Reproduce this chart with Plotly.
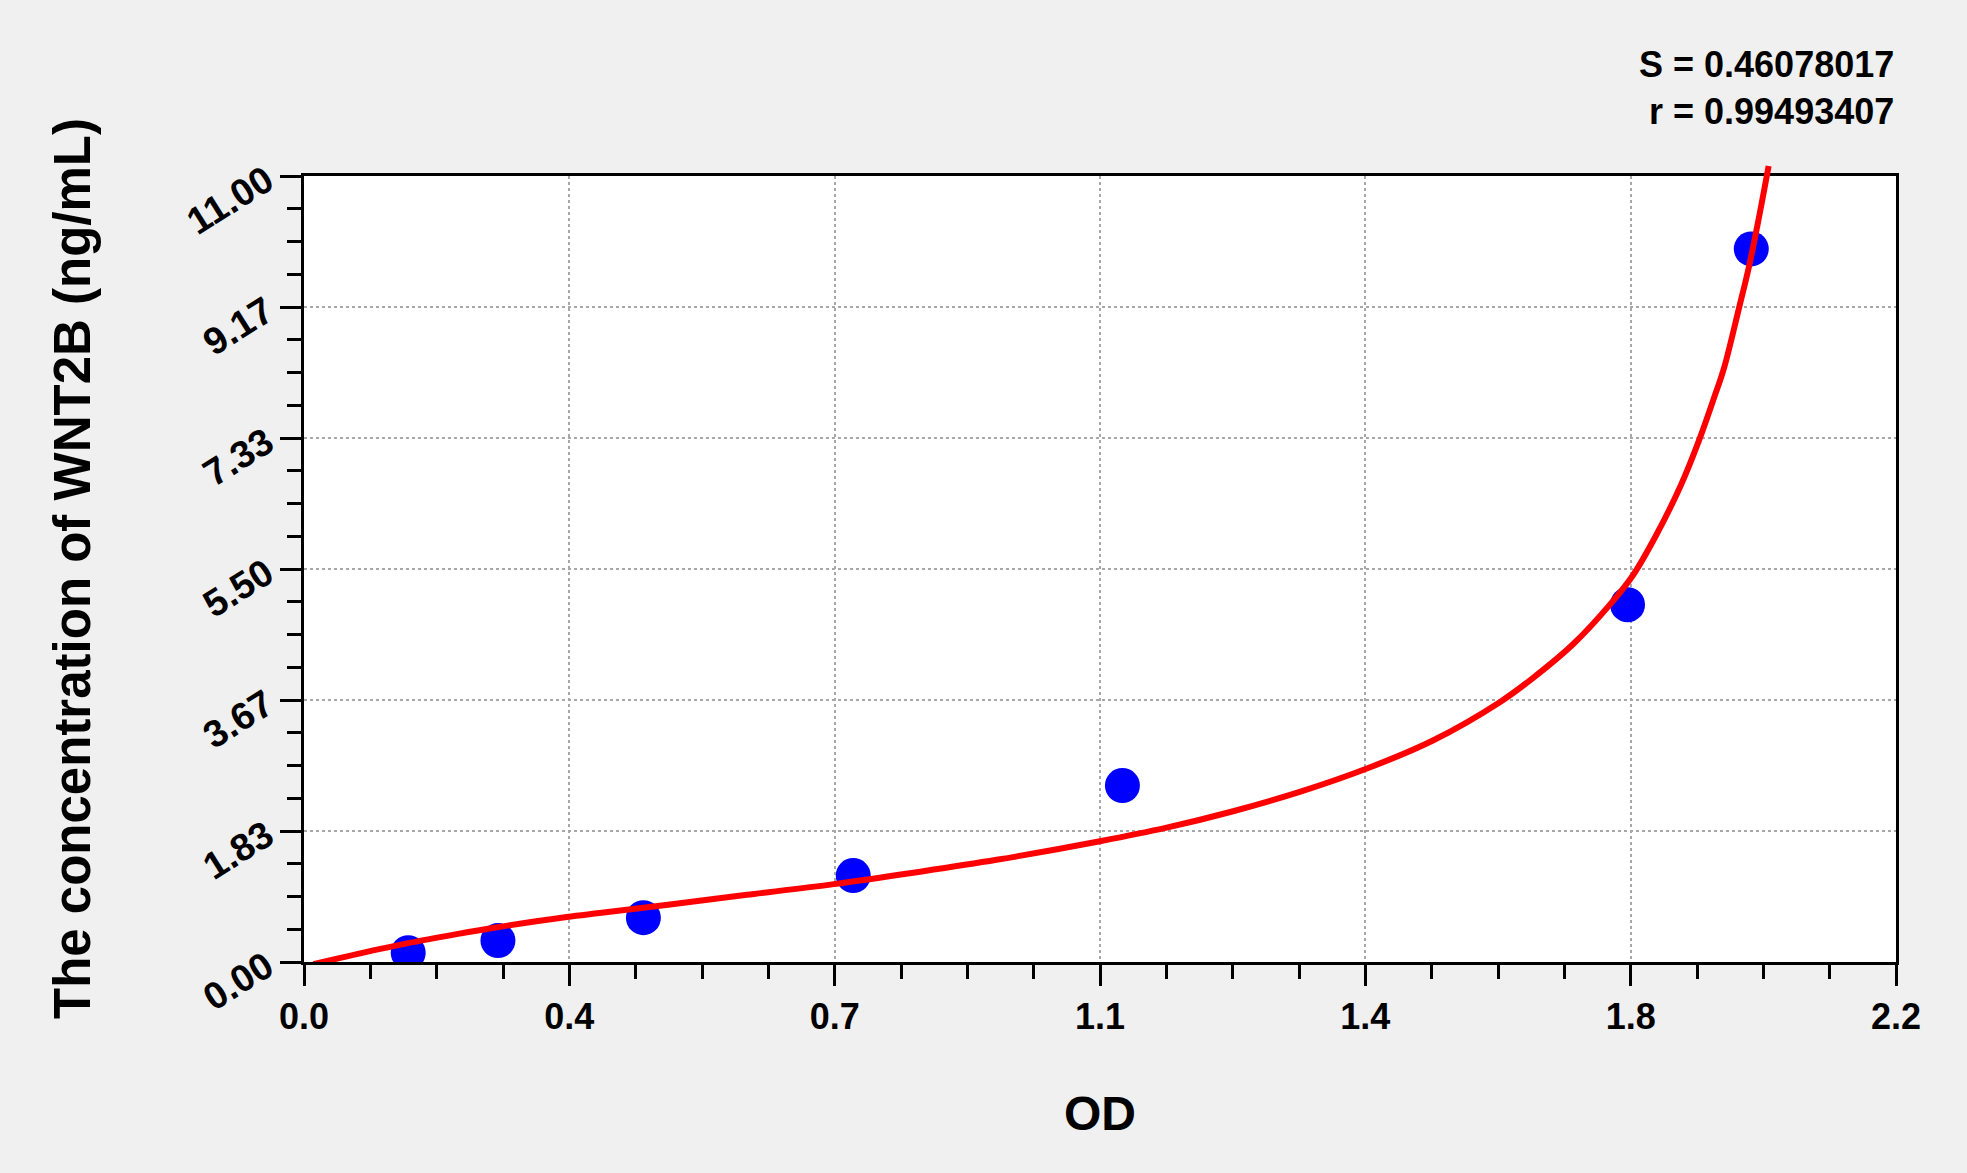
import numpy as np
import plotly.graph_objects as go

# standards (OD vs concentration)
od = [0.144, 0.268, 0.469, 0.759, 1.131, 1.829, 2.000]
conc = [0.13, 0.30, 0.62, 1.21, 2.47, 5.00, 9.98]

# fitted curve
fit_od = [0.013, 0.073, 0.142, 0.211, 0.269, 0.363, 0.469, 0.533, 0.612, 0.732,
          0.842, 0.957, 1.100, 1.192, 1.284, 1.376, 1.467, 1.560, 1.653, 1.699,
          1.754, 1.807, 1.837, 1.870, 1.903, 1.927, 1.948, 1.962, 1.983, 1.997,
          2.011, 2.024]
fit_conc = [-0.03, 0.11, 0.26, 0.39, 0.49, 0.63, 0.76, 0.84, 0.94, 1.09,
            1.25, 1.43, 1.69, 1.88, 2.11, 2.38, 2.70, 3.10, 3.64, 3.98,
            4.45, 5.03, 5.42, 6.00, 6.68, 7.28, 7.88, 8.30, 9.15, 9.74,
            10.44, 11.14]

x_tick_labels = ['0.0', '0.4', '0.7', '1.1', '1.4', '1.8', '2.2']
y_tick_labels = ['0.00', '1.83', '3.67', '5.50', '7.33', '9.17', '11.00']

S_value = '0.46078017'
r_value = '0.99493407'

X_MAX = 2.2
Y_MAX = 11.0

W, H = 1967, 1173
ML, MR, MT, MB = 304, 71, 156, 211
plot_h = H - MT - MB
frame_h = 786  # main frame height, the rest on top lets the curve run over the border
ytop = frame_h / plot_h

FONT = 'Arial, Liberation Sans, sans-serif'

fig = go.Figure()

fig.add_trace(go.Scatter(
    x=od, y=conc, mode='markers',
    marker=dict(size=35, color='#0000ff', line=dict(width=0)),
    xaxis='x', yaxis='y', showlegend=False, hoverinfo='x+y'))

fig.add_trace(go.Scatter(
    x=fit_od, y=fit_conc, mode='lines',
    line=dict(color='#ff0000', width=6, shape='spline', smoothing=1.0),
    xaxis='x2', yaxis='y2', showlegend=False, hoverinfo='skip'))

# white plot area (plot_bgcolor is transparent because of the overlay subplot)
fig.add_shape(type='rect', xref='x', yref='y', x0=0, x1=X_MAX, y0=0, y1=Y_MAX,
              fillcolor='white', line=dict(width=0), layer='below')

axis_common = dict(
    showline=True, linecolor='black', linewidth=3, mirror=True,
    ticks='outside', ticklen=21, tickwidth=3, tickcolor='black',
    showgrid=True, gridcolor='#a8a8a8', gridwidth=1.5, griddash='3px,3px',
    zeroline=False, layer='below traces',
)

fig.update_layout(
    width=W, height=H,
    margin=dict(l=ML, r=MR, t=MT, b=MB, pad=0),
    paper_bgcolor='#f0f0f0',
    plot_bgcolor='rgba(0,0,0,0)',
    font=dict(family=FONT, color='black'),
    xaxis=dict(
        axis_common,
        domain=[0, 1], anchor='y', range=[0, X_MAX],
        tickvals=list(np.linspace(0, X_MAX, len(x_tick_labels))),
        ticktext=x_tick_labels,
        tickfont=dict(size=36, weight='bold'),
        ticklabelstandoff=0,
        minor=dict(dtick=X_MAX / 24, ticks='outside', ticklen=14, tickwidth=3,
                   tickcolor='black', showgrid=False),
    ),
    yaxis=dict(
        axis_common,
        domain=[0, ytop], anchor='x', range=[0, Y_MAX],
        tickvals=list(np.linspace(0, Y_MAX, len(y_tick_labels))),
        ticktext=y_tick_labels,
        tickangle=-32,
        tickfont=dict(size=38, weight='bold'),
        ticklabelstandoff=6,
        minor=dict(dtick=Y_MAX / 24, ticks='outside', ticklen=14, tickwidth=3,
                   tickcolor='black', showgrid=False),
    ),
    xaxis2=dict(domain=[0, 1], anchor='y2', range=[0, X_MAX], visible=False),
    yaxis2=dict(domain=[0, 1], anchor='x2', range=[0, Y_MAX / ytop], visible=False),
)

# axis titles
fig.add_annotation(text='<b>OD</b>', xref='paper', yref='paper',
                   x=0.5, y=-(1113 - (H - MB)) / plot_h, xanchor='center', yanchor='middle',
                   showarrow=False, font=dict(size=48, family=FONT))
fig.add_annotation(text='<b>The concentration of WNT2B (ng/mL)</b>', xref='paper', yref='paper',
                   x=-(ML - 72) / (W - ML - MR), y=ytop / 2, textangle=-90,
                   xanchor='center', yanchor='middle',
                   showarrow=False, font=dict(size=51, family=FONT))

# fit statistics
fig.add_annotation(text='<b>S = ' + S_value + '</b>', xref='paper', yref='paper',
                   x=1, y=1 + (MT - 64) / plot_h, xanchor='right', yanchor='middle',
                   showarrow=False, font=dict(size=36, family=FONT))
fig.add_annotation(text='<b>r = ' + r_value + '</b>', xref='paper', yref='paper',
                   x=1, y=1 + (MT - 112) / plot_h, xanchor='right', yanchor='middle',
                   showarrow=False, font=dict(size=36, family=FONT))

fig.write_html("out.html", config={'displayModeBar': False},
               post_script="document.body.style.margin='0px';")
